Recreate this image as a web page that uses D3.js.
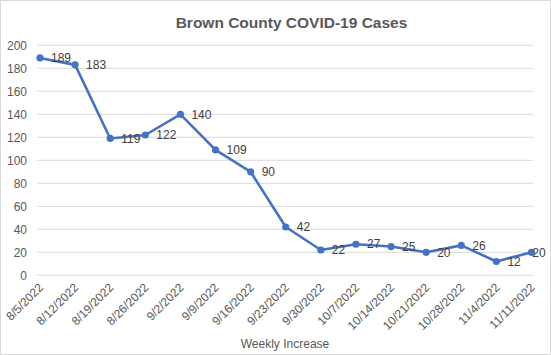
<!DOCTYPE html>
<html>
<head>
<meta charset="utf-8">
<script src="https://cdn.jsdelivr.net/npm/d3@7"></script>
<style>
  html, body { margin: 0; padding: 0; background: #fff; }
  svg { display: block; }
</style>
</head>
<body>
<svg id="chart" width="551" height="355"></svg>
<script>
const categories = ["8/5/2022","8/12/2022","8/19/2022","8/26/2022","9/2/2022","9/9/2022","9/16/2022","9/23/2022","9/30/2022","10/7/2022","10/14/2022","10/21/2022","10/28/2022","11/4/2022","11/11/2022"];
const cases = [189, 183, 119, 122, 140, 109, 90, 42, 22, 27, 25, 20, 26, 12, 20];
const yTicks = [0, 20, 40, 60, 80, 100, 120, 140, 160, 180, 200];
const titleText = "Brown County COVID-19 Cases";
const xTitle = "Weekly Increase";

const font = "'Liberation Sans', Arial, sans-serif";
const svg = d3.select("#chart");
const W = 551, H = 355;

svg.append("rect").attr("x", 0.5).attr("y", 0.5).attr("width", W - 1).attr("height", H - 1)
  .attr("fill", "#fff").attr("stroke", "#d9d9d9");

const plot = { left: 37, right: 533, top: 45.3, bottom: 275.3 };
const x = d3.scalePoint().domain(categories).range([40, 531.5]);
const y = d3.scaleLinear().domain([0, 200]).range([plot.bottom, plot.top]);

// gridlines
svg.append("g").selectAll("line").data(yTicks).join("line")
  .attr("x1", plot.left).attr("x2", plot.right)
  .attr("y1", d => y(d)).attr("y2", d => y(d))
  .attr("stroke", "#d9d9d9").attr("stroke-width", 1);

// y axis labels
const yAxis = d3.axisLeft(y).tickValues(yTicks).tickSize(0).tickPadding(0);
const gy = svg.append("g").attr("transform", "translate(27,0)").call(yAxis);
gy.select(".domain").remove();
gy.selectAll("text").attr("font-family", font).attr("font-size", 12).attr("fill", "#595959");

// x axis labels
const xAxis = d3.axisBottom(x).tickSize(0).tickPadding(0);
const gx = svg.append("g").attr("transform", `translate(0,${plot.bottom})`).call(xAxis);
gx.select(".domain").remove();
gx.selectAll("text")
  .attr("font-family", font).attr("font-size", 12).attr("fill", "#595959")
  .attr("text-anchor", "end")
  .attr("dy", null).attr("y", null)
  .attr("transform", "translate(3.5,13) rotate(-45)");

// line
const line = d3.line().x((d, i) => x(categories[i])).y(d => y(d));
svg.append("path").datum(cases).attr("d", line)
  .attr("fill", "none").attr("stroke", "#4472C4").attr("stroke-width", 2.6)
  .attr("stroke-linejoin", "round");

svg.append("g").selectAll("circle").data(cases).join("circle")
  .attr("cx", (d, i) => x(categories[i])).attr("cy", d => y(d)).attr("r", 3.6)
  .attr("fill", "#4472C4");

// data labels (kept inside the chart area at the right edge)
svg.append("g").selectAll("text").data(cases).join("text")
  .attr("x", (d, i) => x(categories[i]) + 11).attr("y", d => y(d))
  .attr("dy", "0.35em")
  .attr("font-family", font).attr("font-size", 12).attr("fill", "#404040")
  .text(d => d)
  .each(function () {
    const bb = this.getBBox();
    const maxRight = W - 5;
    if (bb.x + bb.width > maxRight) d3.select(this).attr("x", maxRight - bb.width);
  });

// title
svg.append("text").attr("x", 291.5).attr("y", 28).attr("text-anchor", "middle")
  .attr("font-family", font).attr("font-size", 15.5).attr("font-weight", "bold").attr("fill", "#595959")
  .text(titleText);

// x title
svg.append("text").attr("x", 285).attr("y", 348).attr("text-anchor", "middle")
  .attr("font-family", font).attr("font-size", 12).attr("fill", "#595959")
  .text(xTitle);
</script>
</body>
</html>
